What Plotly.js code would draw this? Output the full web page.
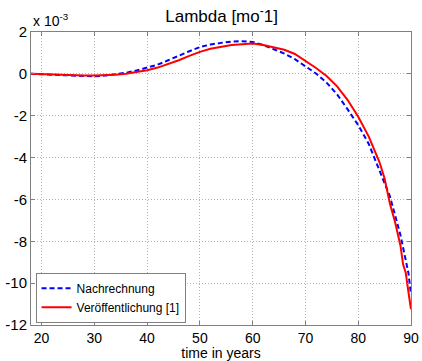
<!DOCTYPE html>
<html>
<head>
<meta charset="utf-8">
<script src="https://cdn.plot.ly/plotly-3.0.1.min.js"></script>
<style>html,body{margin:0;padding:0;background:#fff;}#chart{width:422px;height:361px;}</style>
</head>
<body>
<div id="chart"></div>
<script>
// values in units of 1e-3
const xBlue = [18,20,22,24,26,28,30,32,34,36,38,40,42,44,46,48,50,52,54,56,58,60,62,64,66,68,70,72,74,76,78,80,82,84,86,88,89,89.5,90];
const yBlue = [0.0,-0.02,-0.05,-0.08,-0.1,-0.12,-0.12,-0.08,-0.03,0.05,0.16,0.3,0.44,0.65,0.88,1.08,1.28,1.4,1.48,1.54,1.56,1.52,1.38,1.18,0.97,0.7,0.38,0.02,-0.42,-0.98,-1.7,-2.45,-3.35,-4.6,-5.85,-7.7,-8.9,-9.5,-10.55];
const xRed = [18,20,22,24,26,28,30,32,34,36,38,40,42,44,46,48,50,52,54,56,58,60,62,64,66,68,70,72,74,76,78,80,82,84,85,86,87,88,88.5,89,89.5,90];
const yRed = [0.0,-0.02,-0.04,-0.05,-0.06,-0.08,-0.08,-0.07,-0.04,0.0,0.08,0.17,0.3,0.46,0.65,0.86,1.05,1.2,1.3,1.38,1.41,1.45,1.38,1.28,1.15,0.95,0.62,0.28,-0.1,-0.6,-1.25,-2.05,-3.0,-4.2,-5.0,-6.2,-7.1,-8.2,-9.1,-9.5,-10.4,-11.25];
const seriesNames = ["Nachrechnung", "Veröffentlichung [1]"];
const yTickVals = [2,0,-2,-4,-6,-8,-10,-12];
const yTickText = ["2","0","-2","-4","-6","-8","-10","-12"];
const xTickVals = [20,30,40,50,60,70,80,90];
const xTickText = ["20","30","40","50","60","70","80","90"];

const font = {family: "Liberation Sans, Arial, sans-serif", color: "#000"};
const traces = [
  {x: xBlue, y: yBlue, name: seriesNames[0], mode: "lines", line: {color: "#0000ff", width: 2, dash: "5px,3px"}},
  {x: xRed, y: yRed, name: seriesNames[1], mode: "lines", line: {color: "#ff0000", width: 2}}
];
const axisCommon = {
  showline: true, mirror: "ticks", linecolor: "#808080", linewidth: 1,
  ticks: "inside", ticklen: 4, tickcolor: "#808080",
  showgrid: true, gridcolor: "#b4b4b4", griddash: "1px,2px", gridwidth: 1,
  zeroline: false, tickfont: {family: font.family, size: 15, color: "#000"}
};
const layout = {
  width: 422, height: 361,
  margin: {l: 31, r: 11, t: 32, b: 36},
  paper_bgcolor: "#fff", plot_bgcolor: "#fff",
  title: {text: "Lambda [mo<sup>-</sup>1]", font: {family: font.family, size: 17, color: "#000"}, x: 0.525, xanchor: "center", y: 0.955, yanchor: "middle"},
  xaxis: Object.assign({}, axisCommon, {range: [18, 90], tickvals: xTickVals, ticktext: xTickText, ticklabelstandoff: 0,
    tickfont: {family: font.family, size: 14, color: "#000"},
    title: {text: "time in years", font: {family: font.family, size: 14, color: "#000"}, standoff: 4}}),
  yaxis: Object.assign({}, axisCommon, {range: [-12, 2], tickvals: yTickVals, ticktext: yTickText}),
  showlegend: true,
  legend: {x: 0.012, y: 0.008, xanchor: "left", yanchor: "bottom", bgcolor: "#fff", bordercolor: "#808080", borderwidth: 1,
    font: {family: font.family, size: 12, color: "#000"}, tracegroupgap: 0, itemwidth: 30},
  annotations: [{text: "x 10<sup>-3</sup>", xref: "paper", yref: "paper", x: 0, y: 1, xanchor: "left", yanchor: "bottom", yshift: 1, showarrow: false,
    font: {family: font.family, size: 14, color: "#000"}}]
};
Plotly.newPlot("chart", traces, layout, {staticPlot: true, displayModeBar: false});
</script>
</body>
</html>
